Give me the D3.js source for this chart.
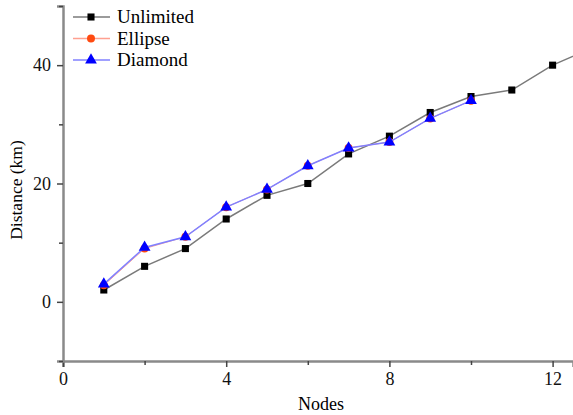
<!DOCTYPE html>
<html><head><meta charset="utf-8">
<script src="https://cdn.jsdelivr.net/npm/d3@7"></script>
<style>body{margin:0;background:#fff}svg{display:block}</style>
</head><body>
<script>
const seriesNames = ["Unlimited", "Ellipse", "Diamond"];
const unlimitedX = [1,2,3,4,5,6,7,8,9,10,11,12,13];
const unlimitedY = [2,6,9,14,18,20,25,28,32,34.7,35.8,40,43];
const ellipseX = [1,2,3,4,5,6,7,8,9,10];
const ellipseY = [2.8,9,11,16,19,23,26,27,31,34];
const diamondX = [1,2,3,4,5,6,7,8,9,10];
const diamondY = [3,9.2,11,16,19,23,26,27,31,34];
const xTicks = [0,4,8,12];
const xMinor = [2,6,10];
const yTicks = [0,20,40];
const yMinor = [-10,10,30,50];

const W=573,H=415;
const svg=d3.select("body").append("svg").attr("width",W).attr("height",H);
const x=d3.scaleLinear().domain([0,12.5]).range([63,573]);
const y=d3.scaleLinear().domain([-10,50]).range([361,6]);
const font="'Liberation Serif', 'Times New Roman', serif";

svg.append("clipPath").attr("id","c").append("rect")
  .attr("x",63).attr("y",0).attr("width",W-63).attr("height",361);

const g=svg.append("g").attr("clip-path","url(#c)");
const series=[
 {name:"Unlimited",xs:unlimitedX,ys:unlimitedY,line:"#7a7a7a",lw:1.5,mark:"#000",shape:d3.symbolSquare,size:50},
 {name:"Ellipse",xs:ellipseX,ys:ellipseY,line:"#ffa090",lw:1,mark:"#ff4a10",shape:d3.symbolCircle,size:50},
 {name:"Diamond",xs:diamondX,ys:diamondY,line:"#8080ff",lw:1.5,mark:"#0000ff",shape:d3.symbolTriangle,size:60}
];
const line=d3.line().x(d=>x(d[0])).y(d=>y(d[1]));
series.forEach(s=>{
  const pts=s.xs.map((v,i)=>[v,s.ys[i]]);
  g.append("path").attr("d",line(pts)).attr("fill","none").attr("stroke",s.line).attr("stroke-width",s.lw);
  g.selectAll(null).data(pts).enter().append("path")
   .attr("d",d3.symbol().type(s.shape).size(s.size))
   .attr("transform",d=>`translate(${x(d[0])},${y(d[1])})`)
   .attr("fill",s.mark);
});

// axes
svg.append("g").attr("transform","translate(0,361)")
  .call(d3.axisBottom(x).tickValues(xTicks).tickFormat(d3.format("d")).tickSize(6).tickPadding(5));
svg.append("g").attr("transform","translate(0,361)")
  .call(d3.axisBottom(x).tickValues(xMinor).tickFormat("").tickSize(4))
  .call(a=>a.select(".domain").remove());
svg.append("g").attr("transform","translate(63,0)")
  .call(d3.axisLeft(y).tickValues(yTicks).tickFormat(d3.format("d")).tickSize(6).tickPadding(6));
svg.append("g").attr("transform","translate(63,0)")
  .call(d3.axisLeft(y).tickValues(yMinor).tickFormat("").tickSize(4))
  .call(a=>a.select(".domain").remove());
svg.selectAll(".domain").attr("stroke","#8a8a8a").attr("stroke-width",2.5);
svg.selectAll(".tick line").attr("stroke","#444").attr("stroke-width",1.5);
svg.selectAll(".tick text").attr("font-family",font).attr("font-size",18).attr("fill","#111");

svg.append("text").attr("x",321).attr("y",410).attr("text-anchor","middle")
  .attr("font-family",font).attr("font-size",18).text("Nodes");
svg.append("text").attr("transform","translate(22,190) rotate(-90)").attr("text-anchor","middle")
  .attr("font-family",font).attr("font-size",17.5).text("Distance (km)");

// legend
const lg=svg.append("g");
series.forEach((s,i)=>{
  const yy=17+i*21.5;
  lg.append("line").attr("x1",73).attr("x2",110).attr("y1",yy).attr("y2",yy).attr("stroke",s.line).attr("stroke-width",1.5);
  lg.append("path").attr("d",d3.symbol().type(s.shape).size(s.size)).attr("transform",`translate(91,${yy})`).attr("fill",s.mark);
  lg.append("text").attr("x",117).attr("y",yy+6).attr("font-family",font).attr("font-size",19).text(s.name);
});
</script>
</body></html>
